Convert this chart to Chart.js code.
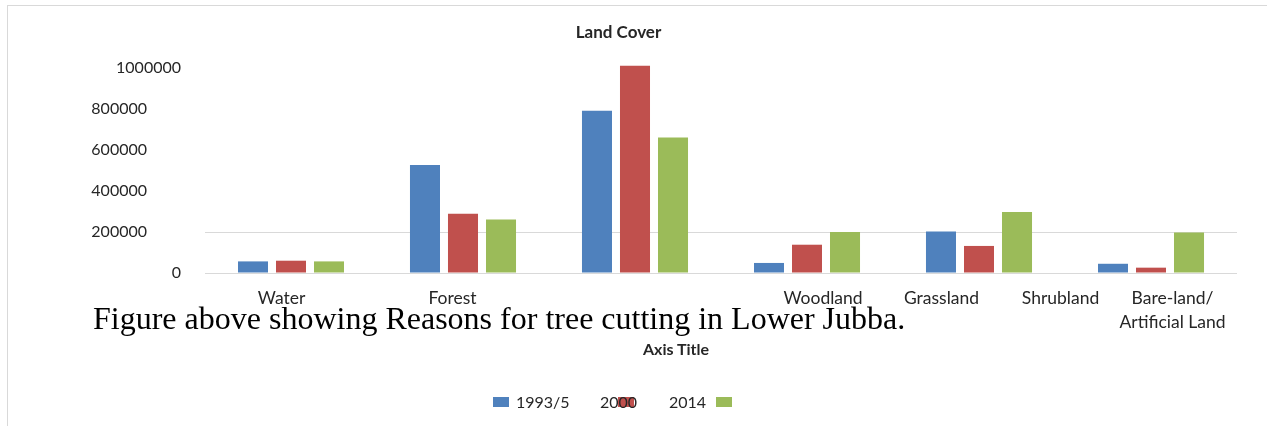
<!DOCTYPE html>
<html>
<head>
<meta charset="utf-8">
<script src="https://cdn.jsdelivr.net/npm/chart.js"></script>
<style>
  body { margin: 0; background: #fff; }
  #wrap { position: relative; width: 1267px; height: 426px; overflow: hidden; }
  #frame { position: absolute; left: 7px; top: 5px; width: 1300px; height: 500px;
           border-left: 1px solid #d9d9d9; border-top: 1px solid #d9d9d9; }
  canvas { position: absolute; left: 0; top: 0; }
  .txt { position: absolute; white-space: nowrap; color: #262626; }
  #caption { left: 93px; top: 302px; font: 32px/32px "Liberation Serif", serif; color: #000; }
  #axisTitle { left: 643px; top: 341px; font: bold 16px/16px Lato, sans-serif; }
  .leg { position: absolute; top: 394px; font: 16px/16px Lato, sans-serif; color: #262626; white-space: nowrap; }
  .box { position: absolute; top: 397px; width: 16px; height: 10px; }
</style>
</head>
<body>
<div id="wrap">
  <div id="frame"></div>
  <canvas id="grafico" width="1267" height="426"></canvas>
  <div id="caption" class="txt">Figure above showing Reasons for tree cutting in Lower Jubba.</div>
  <div id="axisTitle" class="txt">Axis Title</div>
  <div id="legenda"></div>
</div>
<script>
// categorias das barras (a terceira nao tem rotulo no original)
var categorias = ['Water', 'Forest', '', 'Woodland', 'Grassland', 'Bare-land/Artificial Land'];

// series
var series = ['1993/5', '2000', '2014'];
var valores1993 = [56600, 527000, 792000, 49000, 203000, 45000];
var valores2000 = [60000, 289000, 1011000, 138000, 132000, 26000];
var valores2014 = [56600, 261000, 661000, 200000, 298000, 197000];
var cores = ['#4f81bd', '#c0504d', '#9bbb59'];

// rotulos do eixo x, como aparecem no grafico (posicao em unidades de categoria)
var rotulosX = ['Water', 'Forest', 'Woodland', 'Grassland', 'Shrubland', ['Bare-land/', 'Artificial Land']];
var posRotulosX = [-0.055, 0.939, 3.093, 3.782, 4.474, 5.125];

// ticks do eixo y
var ticksY = [0, 200000, 400000, 600000, 800000, 1000000];

var fonte = 'Lato';
var corTexto = '#262626';

var data = {
    labels: categorias,
    datasets: [
        { label: series[0], data: valores1993, backgroundColor: cores[0], clip: false },
        { label: series[1], data: valores2000, backgroundColor: cores[1], clip: false },
        { label: series[2], data: valores2014, backgroundColor: cores[2], clip: false }
    ]
};

var options = {
    responsive: false,
    animation: false,
    devicePixelRatio: 1,
    layout: { padding: { top: 22, left: 0, right: 30, bottom: 53 } },
    datasets: { bar: { categoryPercentage: 0.663, barPercentage: 0.79 } },
    plugins: {
        legend: { display: false },
        tooltip: { enabled: false },
        title: {
            display: true,
            text: 'Land Cover',
            color: corTexto,
            font: { family: fonte, size: 17, weight: 'bold' },
            padding: { top: 0, bottom: 25.6 }
        }
    },
    scales: {
        x: { display: false },
        xl: {
            type: 'linear',
            position: 'bottom',
            offset: false,
            min: -0.5,
            max: 5.5,
            grid: { display: false, drawTicks: false, offset: false },
            border: { display: false },
            afterBuildTicks: function (scale) {
                scale.ticks = posRotulosX.map(function (v) { return { value: v }; });
            },
            afterFit: function (scale) { scale.height = 100; },
            ticks: {
                autoSkip: false,
                maxRotation: 0,
                padding: 13,
                color: corTexto,
                font: { family: fonte, size: 17.5, lineHeight: 1.371 },
                callback: function (v, i) { return rotulosX[i]; }
            }
        },
        y: {
            min: 0,
            max: 1000000,
            afterBuildTicks: function (scale) {
                scale.ticks = ticksY.map(function (v) { return { value: v }; });
            },
            afterFit: function (scale) { scale.width = 205; },
            border: { display: false },
            grid: {
                drawTicks: false,
                color: function (ctx) {
                    return (ctx.tick && (ctx.tick.value === 0 || ctx.tick.value === 200000)) ? '#d9d9d9' : 'rgba(0,0,0,0)';
                }
            },
            ticks: {
                padding: 24,
                color: corTexto,
                font: { family: fonte, size: 16 },
                callback: function (v) {
                    // no original os rotulos do meio ficam mais a esquerda
                    return (v === 0 || v === 1000000) ? String(v) : v + '\u2003\u2003\u2002\u2009';
                }
            }
        }
    }
};

var ctx = document.querySelector('#grafico').getContext('2d');
var barChart = new Chart(ctx, { type: 'bar', data: data, options: options });

// legenda em html, montada a partir dos datasets (texto por cima da caixa)
var legPos = [
    { box: 493, text: 516 },
    { box: 618, text: 600 },
    { box: 716, text: 669 }
];
var legenda = document.querySelector('#legenda');
data.datasets.forEach(function (ds, i) {
    var b = document.createElement('span');
    b.className = 'box';
    b.style.left = legPos[i].box + 'px';
    b.style.background = ds.backgroundColor;
    legenda.appendChild(b);
    var t = document.createElement('span');
    t.className = 'leg';
    t.style.left = legPos[i].text + 'px';
    t.textContent = ds.label;
    legenda.appendChild(t);
});
</script>
</body>
</html>
